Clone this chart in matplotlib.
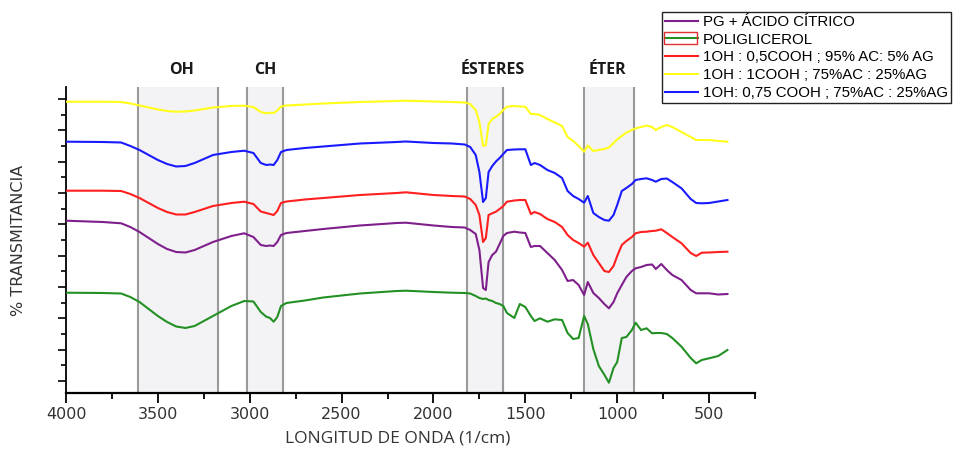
import matplotlib
matplotlib.use("Agg")
import matplotlib.pyplot as plt
from matplotlib.ticker import FixedLocator
from matplotlib.transforms import blended_transform_factory
from matplotlib.patches import Rectangle

# wavenumber grid (1/cm) shared by all spectra
wavenumber = [4000, 3800, 3700, 3650, 3600, 3550, 3500, 3450, 3400, 3350,
              3300, 3200, 3100, 3030, 2980, 2940, 2910, 2890, 2870, 2850,
              2830, 2800, 2700, 2600, 2400, 2200, 2150, 2000, 1900, 1830,
              1800, 1770, 1750, 1730, 1715, 1700, 1680, 1660, 1640, 1620,
              1600, 1560, 1530, 1500, 1470, 1450, 1420, 1380, 1340, 1300,
              1270, 1240, 1210, 1180, 1160, 1130, 1100, 1070, 1045, 1020,
              1000, 975, 950, 920, 900, 870, 840, 810, 790, 760,
              730, 700, 650, 600, 570, 540, 500, 450, 400]

# transmittance (arbitrary units, curves are offset)
yellow = [310.3, 310.3, 310, 308.5, 306.5, 304.5, 302.5, 301, 300.3, 300.5,
          301.5, 304.5, 306, 306.3, 305, 300, 298.7, 299.3, 299, 301.5,
          305.5, 306.5, 307.5, 308.5, 310, 311, 311.3, 310.5, 310, 309.5,
          308, 302, 290, 266, 267, 288, 293, 295.3, 298, 302,
          305.3, 306, 305.5, 305.3, 298, 298, 297, 293, 289.5, 286,
          275, 271, 266, 260.3, 266.5, 261, 262, 263, 264.5, 269,
          272.5, 276, 279.5, 282, 283.7, 285, 286.5, 285, 282, 285,
          287, 285, 280, 275, 272, 272, 272, 271, 270.3]

blue = [270.3, 270, 269.5, 266, 262, 257, 252, 248, 245.5, 246,
        249, 257, 260, 261.3, 259, 249, 247, 247.5, 247, 252,
        260, 262, 264, 265.5, 268.5, 270, 270.5, 269, 268.5, 267.5,
        265, 257, 240, 210, 214, 240, 246, 250.5, 254, 258,
        262, 262.5, 262.7, 262.7, 247, 249, 247, 242, 239, 234,
        221, 216, 213, 209.3, 216, 199, 195, 192, 191.3, 197,
        207, 221, 224, 228, 232, 233, 233.7, 232, 230.3, 233,
        233.5, 230, 223.7, 213, 209, 208.7, 209, 210.5, 212]

red = [221.3, 221.3, 221, 218, 214, 209, 204, 200, 197.5, 197.5,
       200, 206, 209, 210.3, 208, 200.5, 199, 198, 197, 201,
       209, 210.5, 212.5, 214, 217, 219, 219.7, 217, 216, 215.5,
       213, 207, 197, 170, 174, 197, 198.7, 200.3, 203, 206,
       210.3, 211.5, 212, 212, 198, 200, 198, 193, 190, 185,
       177, 172, 169, 165.3, 169.3, 157, 149, 141, 140, 146,
       156, 167, 171, 175, 178.7, 180, 180.3, 181, 181.3, 182.7,
       179, 175, 168.7, 159, 156, 159.3, 159.5, 160, 160.3]

purple = [191.3, 190, 188.7, 185, 180, 174, 168, 163, 160, 159.5,
          162, 170, 176, 178.7, 175, 167, 166, 166.5, 166, 170,
          177, 179, 181, 183, 186.5, 189, 189.3, 186.5, 185, 184.5,
          182, 178, 162, 124, 122, 150, 157, 160.3, 168, 176,
          179, 180.3, 179.5, 179, 165, 166, 166, 159, 152, 142,
          131, 132, 127, 117, 130, 119, 114, 108, 103.7, 110,
          118.7, 127, 135, 141, 143.7, 145, 147, 147.5, 143, 148,
          142, 137, 132, 122, 118.7, 118.7, 118.7, 117.5, 118]

green = [119.3, 119, 118.5, 115, 110, 103, 96, 90, 85.5, 84,
         86, 96, 106, 111, 110.5, 100, 95.3, 94, 90.3, 95,
         106, 109, 111.5, 114.5, 118.5, 121, 121.3, 120, 119.3, 119,
         118.5, 116, 114, 113, 113.5, 112, 111, 109, 108, 106,
         99, 94, 108, 105, 96, 91, 93.7, 90.3, 92.7, 92,
         79, 73, 74, 96, 88, 63, 46, 37.3, 29.3, 44,
         50, 74, 75, 82, 89.3, 82, 83.7, 78.7, 79, 79,
         78, 74, 65.3, 54, 48.7, 52, 53.7, 56, 62]

series = [
    ("PG + ÁCIDO CÍTRICO", purple, "#7f1f8c"),
    ("POLIGLICEROL", green, "#239023"),
    ("1OH : 0,5COOH ; 95% AC: 5% AG", red, "#ff1f1f"),
    ("1OH : 1COOH ; 75%AC : 25%AG", yellow, "#ffff1a"),
    ("1OH: 0,75 COOH ; 75%AC : 25%AG", blue, "#1a1aff"),
]

# functional group bands (1/cm)
band_names = ["OH", "CH", "ÉSTERES", "ÉTER"]
band_limits = [(3610, 3175), (3015, 2820), (1820, 1622), (1181, 909)]
band_label_x = [3373, 2916, 1679, 1055]

fig = plt.figure(figsize=(9.54, 4.51), dpi=100)
ax = fig.add_axes([0.0692, 0.1286, 0.7222, 0.6785])

for (hi, lo) in band_limits:
    ax.axvspan(lo, hi, color="#f3f3f6", zorder=0)
    ax.axvline(hi, color="#9a9a9a", lw=1.5, zorder=1)
    ax.axvline(lo, color="#9a9a9a", lw=1.5, zorder=1)

lines = []
for label, vals, col in series:
    ln, = ax.plot(wavenumber, vals, color=col, lw=1.5, label=label, zorder=3)
    lines.append(ln)

trans = blended_transform_factory(ax.transData, ax.transAxes)
for name, xl in zip(band_names, band_label_x):
    ax.text(xl, 1.055, name, transform=trans, ha="center", va="center",
            fontsize=11.5, fontweight="bold", family="Open Sans", color="#1a1a1a")

ax.set_xlim(4000, 250)
ax.set_ylim(19, 325)
ax.xaxis.set_major_locator(FixedLocator([4000, 3500, 3000, 2500, 2000, 1500, 1000, 500]))
ax.xaxis.set_minor_locator(FixedLocator([3750, 3250, 2750, 2250, 1750, 1250, 750, 250]))
ax.yaxis.set_major_locator(FixedLocator([31 + 31.33 * k for k in range(10)]))
ax.yaxis.set_minor_locator(FixedLocator([46.7 + 31.33 * k for k in range(9)]))
ax.set_yticklabels([])

for s in ["top", "right"]:
    ax.spines[s].set_visible(False)
ax.spines["bottom"].set_linewidth(1.6)
ax.spines["left"].set_linewidth(1.3)
ax.tick_params(axis="x", which="major", direction="out", length=7, width=1.3,
               labelsize=11.5, pad=3)
ax.tick_params(axis="x", which="minor", direction="out", length=4.5, width=1.3)
ax.tick_params(axis="y", which="major", direction="out", length=5.5, width=1.2)
ax.tick_params(axis="y", which="minor", direction="out", length=3.5, width=1.2)
for t in ax.get_xticklabels():
    t.set_family(["Liberation Sans Narrow", "DejaVu Sans"])
    t.set_color("#333333")

ax.set_xlabel("LONGITUD DE ONDA (1/cm)", family="Open Sans", fontsize=12.5,
              color="#333333")
ax.xaxis.set_label_coords(0.482, -0.122)
ax.set_ylabel("% TRANSMITANCIA", family=["Liberation Sans Narrow", "DejaVu Sans"],
              fontsize=11.5, color="#333333", labelpad=20)

leg = fig.legend(handles=lines, loc="upper left",
                 bbox_to_anchor=(662 / 954, 1 - 11.7 / 451),
                 prop={"family": "Liberation Sans", "size": 10.8},
                 frameon=True, fancybox=False, edgecolor="#222222",
                 framealpha=1, borderpad=0.22, labelspacing=0.25,
                 handlelength=2.2, handletextpad=0.3, borderaxespad=0)
leg.get_frame().set_linewidth(1.0)

# red selection box drawn around the POLIGLICEROL legend handle
fig.patches.append(Rectangle((664 / 954, 1 - 43.5 / 451), 33 / 954, 11.5 / 451,
                             transform=fig.transFigure, fill=False,
                             edgecolor="#e03030", lw=1.0, zorder=10))

fig.savefig("out.png", dpi=100)
